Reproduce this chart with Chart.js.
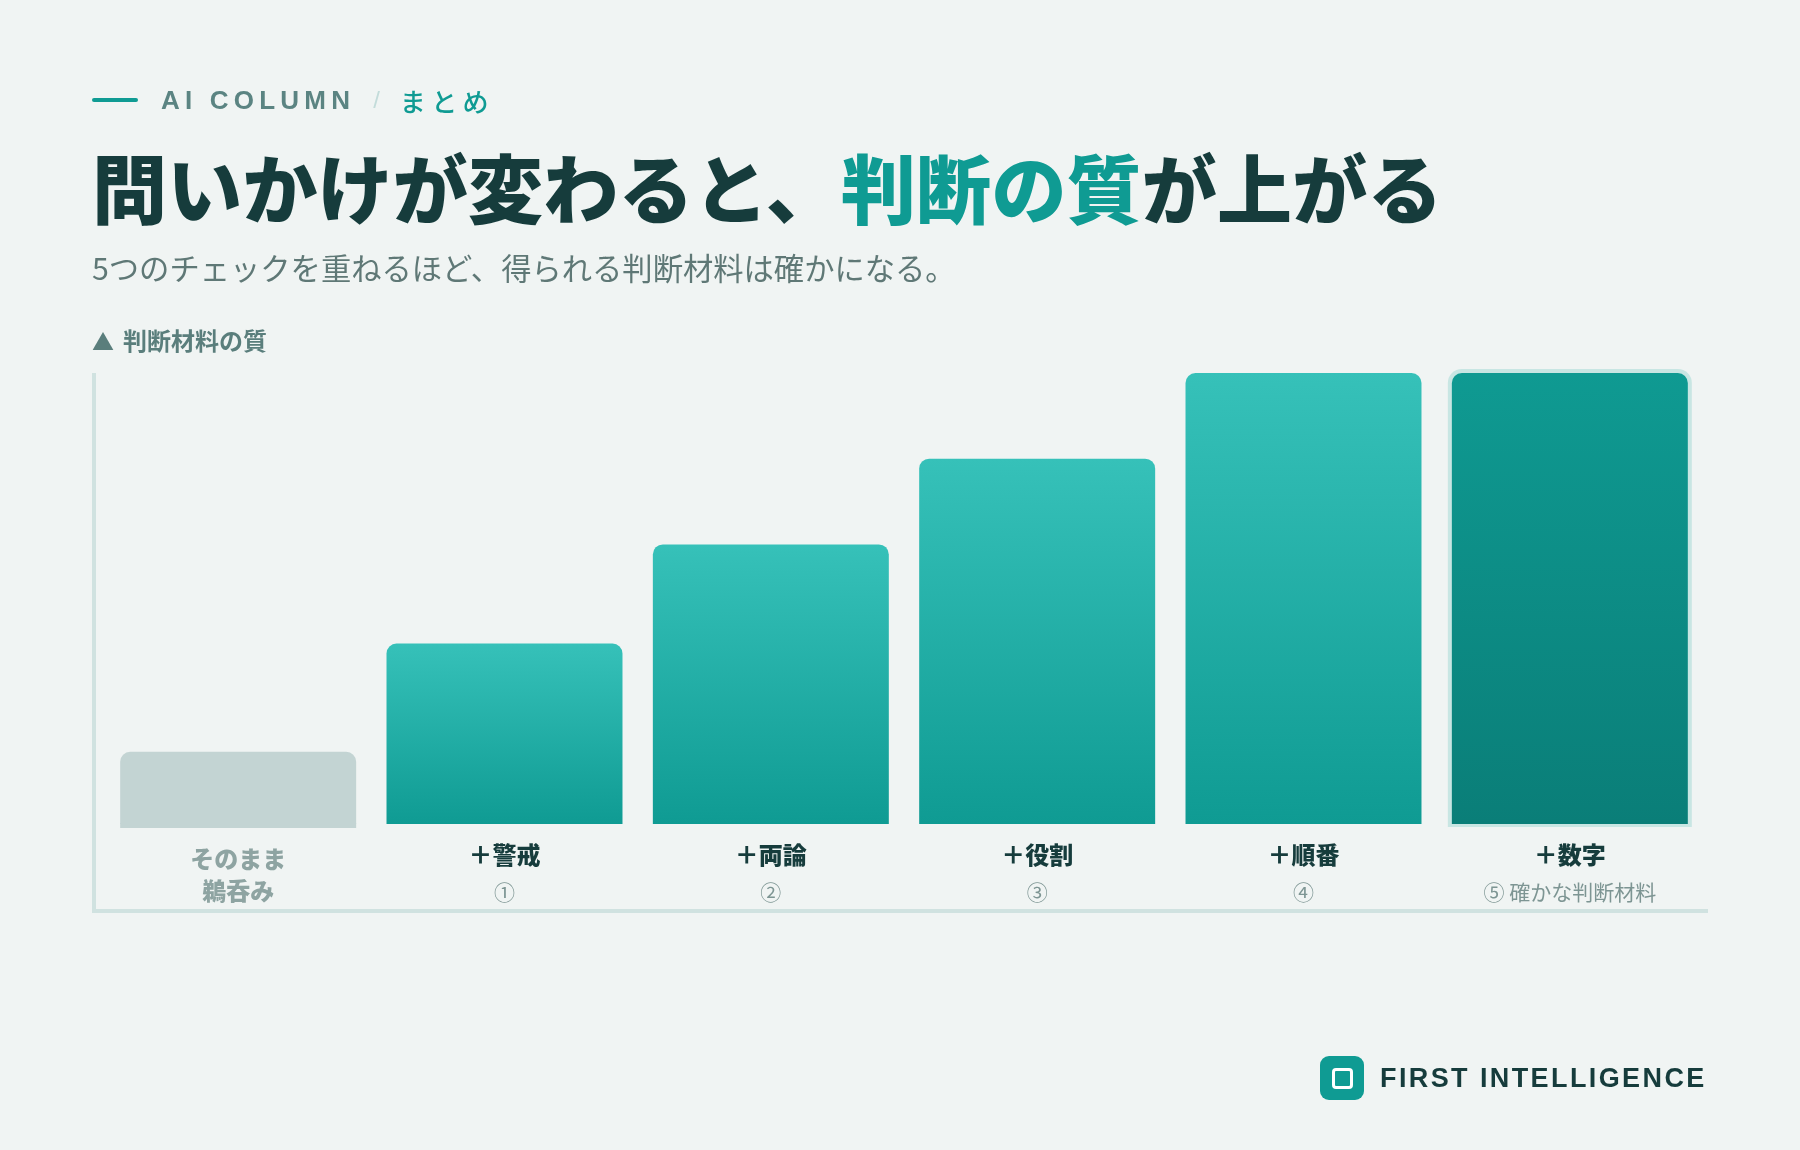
<!DOCTYPE html>
<html lang="ja">
<head>
<meta charset="utf-8">
<title>問いかけが変わると、判断の質が上がる</title>
<script src="https://cdn.jsdelivr.net/npm/chart.js@4.4.1/dist/chart.umd.min.js"></script>
<style>
  html, body { margin: 0; padding: 0; }
  body {
    width: 1800px; height: 1150px; position: relative; overflow: hidden;
    background: #f0f4f3;
    font-family: "Noto Sans CJK JP", "Noto Sans", sans-serif;
  }
  #chart { position: absolute; left: 0; top: 0; }
  .abs { position: absolute; white-space: nowrap; }
  #kicker { left: 92px; top: 86px; height: 28px; display: flex; align-items: center; }
  #kicker .bar { width: 46px; height: 4px; border-radius: 2px; background: #0f9b93; margin-right: 23px; }
  #kicker .en { font-family: "Liberation Sans", Arial, sans-serif; font-weight: 700; font-size: 26px; letter-spacing: 5.2px; color: #5b8482; }
  #kicker .slash { font-family: "Liberation Sans", Arial, sans-serif; font-size: 24px; color: #c3dcda; margin: 0 20px 0 18px; }
  #kicker .ja { font-weight: 500; font-size: 26px; letter-spacing: 5.4px; color: #0f9b93; }
  #title { left: 92px; top: 148px; font-size: 75px; line-height: 1; font-weight: 900; letter-spacing: 0.2px; color: #163c3c; }
  #title em { font-style: normal; color: #0f9b93; }
  #sub { left: 92px; top: 252px; font-size: 30.3px; line-height: 1; font-weight: 400; color: #5f7876; }
  #ylab { left: 92px; top: 327px; font-size: 24px; line-height: 26px; font-weight: 700; color: #5a7e7c; }
  #ylab .tri { font-size: 22px; margin-right: 9px; }
  #brand { left: 1320px; top: 1056px; height: 44px; display: flex; align-items: center; }
  #brand .logo { width: 44px; height: 44px; border-radius: 9px; background: #0f9b93; display: flex; align-items: center; justify-content: center; margin-right: 16px; }
  #brand .logo span { width: 15px; height: 15px; border: 3px solid #ffffff; border-radius: 4px; }
  #brand .name { font-family: "Liberation Sans", Arial, sans-serif; font-weight: 700; font-size: 27px; letter-spacing: 2.4px; color: #163c3c; }
</style>
</head>
<body>
<canvas id="chart" width="1800" height="1150"></canvas>

<div id="kicker" class="abs"><div class="bar"></div><span class="en">AI COLUMN</span><span class="slash">/</span><span class="ja">まとめ</span></div>
<div id="title" class="abs">問いかけが変わると、<em>判断の質</em>が上がる</div>
<div id="sub" class="abs">5つのチェックを重ねるほど、得られる判断材料は確かになる。</div>
<div id="ylab" class="abs"><span class="tri">▲</span>判断材料の質</div>
<div id="brand" class="abs"><div class="logo"><span></span></div><span class="name">FIRST INTELLIGENCE</span></div>

<script>
// data
const steps = ['そのまま', '＋警戒', '＋両論', '＋役割', '＋順番', '＋数字'];
const stepNotes = ['鵜呑み', '①', '②', '③', '④', '⑤ 確かな判断材料'];
const quality = [16, 40, 62, 81, 100, 100];

const grayBar = '#c3d4d3';
const frameColor = '#d0e2e0';

function barColor(ctx) {
    const chart = ctx.chart;
    const area = chart.chartArea;
    const i = ctx.dataIndex;
    if (i === 0) return grayBar;
    if (!area) return '#1aa9a1';
    const y = chart.scales.y;
    const top = y.getPixelForValue(quality[i]);
    const bottom = y.getPixelForValue(0);
    const g = chart.ctx.createLinearGradient(0, top, 0, bottom);
    if (i === quality.length - 1) {
        g.addColorStop(0, '#0f9a92');
        g.addColorStop(1, '#0a7e78');
    } else {
        g.addColorStop(0, '#36c1b9');
        g.addColorStop(1, '#0f9b93');
    }
    return g;
}

// L-shaped frame + highlight outline behind the last bar
const framePlugin = {
    id: 'frame',
    beforeDatasetsDraw(chart) {
        const ctx = chart.ctx;
        const a = chart.chartArea;
        ctx.save();
        ctx.strokeStyle = frameColor;
        ctx.lineWidth = 4;
        ctx.lineJoin = 'miter';
        ctx.beginPath();
        ctx.moveTo(a.left - 11, a.top);
        ctx.lineTo(a.left - 11, a.bottom + 87);
        ctx.lineTo(a.right + 5, a.bottom + 87);
        ctx.stroke();

        const bars = chart.getDatasetMeta(0).data;
        const last = bars[bars.length - 1];
        ctx.fillStyle = '#c8e6e3';
        ctx.beginPath();
        ctx.roundRect(last.x - last.width / 2 - 4, last.y - 4, last.width + 8, last.base - last.y + 7, [14, 14, 0, 0]);
        ctx.fill();

        const first = bars[0];
        ctx.fillStyle = grayBar;
        ctx.fillRect(first.x - first.width / 2, first.base - 1, first.width, 5);
        ctx.restore();
    }
};

// two-line category labels under the bars
const labelPlugin = {
    id: 'stepLabels',
    afterDatasetsDraw(chart) {
        const ctx = chart.ctx;
        const x = chart.scales.x;
        const base = chart.scales.y.getPixelForValue(0);
        ctx.save();
        ctx.textAlign = 'center';
        ctx.textBaseline = 'middle';
        steps.forEach(function (s, i) {
            const px = x.getPixelForValue(i);
            if (i === 0) {
                ctx.fillStyle = '#8ea4a2';
                ctx.font = '900 24px "Noto Sans CJK JP"';
                ctx.fillText(s, px, base + 35);
                ctx.fillText(stepNotes[i], px, base + 67);
            } else {
                ctx.fillStyle = '#163c3c';
                ctx.font = '900 24px "Noto Sans CJK JP"';
                ctx.fillText(s, px, base + 31);
                ctx.fillStyle = '#7d9593';
                ctx.font = '400 21px "Noto Sans CJK JP"';
                ctx.fillText(stepNotes[i], px, base + 68);
            }
        });
        ctx.restore();
    }
};

new Chart(document.getElementById('chart'), {
    type: 'bar',
    data: {
        labels: steps,
        datasets: [{
            data: quality,
            backgroundColor: barColor,
            borderWidth: 0,
            borderRadius: { topLeft: 10, topRight: 10, bottomLeft: 0, bottomRight: 0 },
            borderSkipped: 'start',
            barPercentage: 0.886,
            categoryPercentage: 1
        }]
    },
    options: {
        responsive: false,
        animation: false,
        layout: { padding: { left: 105, right: 97, top: 373, bottom: 326 } },
        plugins: {
            legend: { display: false },
            tooltip: { enabled: false }
        },
        scales: {
            x: { display: false },
            y: { display: false, min: 0, max: 100 }
        }
    },
    plugins: [framePlugin, labelPlugin]
});
</script>
</body>
</html>
